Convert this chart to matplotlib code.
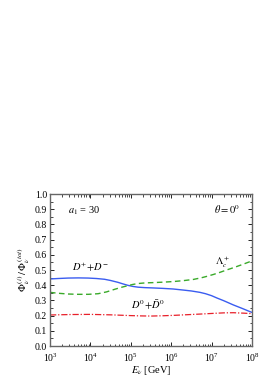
import numpy as np
import matplotlib
matplotlib.use('Agg')
import matplotlib.pyplot as plt
from matplotlib.ticker import LogLocator, MultipleLocator, NullFormatter

plt.rcParams['font.family'] = ['Liberation Serif', 'DejaVu Serif']
plt.rcParams['mathtext.fontset'] = 'stix'

# log10(E / GeV) sample points
logE_dpm = [3.0, 3.2, 3.45, 3.7, 3.94, 4.15, 4.35, 4.5, 4.68, 4.8, 4.93, 5.05, 5.18, 5.35,
            5.55, 5.8, 6.05, 6.3, 6.5, 6.71, 6.85, 7.0, 7.13, 7.3, 7.54, 7.75, 7.95, 8.0]
frac_dpm = [0.441, 0.444, 0.447, 0.448, 0.447, 0.444, 0.439, 0.431, 0.419, 0.409, 0.399, 0.392,
            0.387, 0.384, 0.382, 0.379, 0.375, 0.368, 0.362, 0.353, 0.344, 0.331, 0.316, 0.298,
            0.27, 0.248, 0.226, 0.221]

logE_lam = [3.0, 3.2, 3.45, 3.69, 3.95, 4.19, 4.4, 4.6, 4.78, 4.93, 5.05, 5.18, 5.35, 5.55,
            5.8, 6.05, 6.3, 6.55, 6.75, 6.88, 7.05, 7.2, 7.37, 7.55, 7.75, 7.95, 8.0]
frac_lam = [0.353, 0.347, 0.342, 0.34, 0.34, 0.344, 0.356, 0.373, 0.387, 0.397, 0.405, 0.411,
            0.415, 0.417, 0.42, 0.424, 0.43, 0.438, 0.449, 0.458, 0.471, 0.484, 0.5, 0.516,
            0.535, 0.555, 0.56]

logE_d0 = [3.0, 3.5, 4.0, 4.5, 5.0, 5.25, 5.5, 5.8, 6.1, 6.4, 6.71, 7.0, 7.3, 7.54, 7.8, 8.0]
frac_d0 = [0.204, 0.207, 0.208, 0.205, 0.2, 0.198, 0.197, 0.199, 0.202, 0.206, 0.21, 0.214,
           0.218, 0.219, 0.216, 0.213]

fig = plt.figure(figsize=(2.75, 3.9), dpi=100)
ax = fig.add_axes([50 / 275, 1 - 346 / 390, 202 / 275, 152 / 390])

ax.plot(10 ** np.array(logE_dpm), frac_dpm, color='#3a5cf0', lw=1.0)
ax.plot(10 ** np.array(logE_lam), frac_lam, color='#3aaa2a', lw=1.0, ls=(0, (4, 2.5)))
ax.plot(10 ** np.array(logE_d0), frac_d0, color='#e8202a', lw=0.9, ls=(0, (5, 1.5, 1, 1.5)))

ax.set_xscale('log')
ax.set_xlim(1e3, 1e8)
ax.set_ylim(0, 1.0)
ax.yaxis.set_major_locator(MultipleLocator(0.1))
ax.yaxis.set_minor_locator(MultipleLocator(0.05))
ax.yaxis.set_major_formatter(matplotlib.ticker.FormatStrFormatter('%.1f'))
ax.xaxis.set_major_locator(LogLocator(base=10, numticks=10))
ax.xaxis.set_minor_locator(LogLocator(base=10, subs=np.arange(2, 10), numticks=20))
ax.xaxis.set_minor_formatter(NullFormatter())

ax.tick_params(which='both', direction='in', top=True, right=True, labelsize=7)
ax.tick_params(axis='x', pad=4)
ax.tick_params(axis='y', pad=2)
ax.tick_params(which='major', length=3, width=0.6)
ax.tick_params(which='minor', length=1.8, width=0.5)
for s in ax.spines.values():
    s.set_color('#666666')
    s.set_linewidth(1.0)

ax.set_xlabel(r'$E_\nu$ [GeV]', fontsize=7.5, labelpad=0)
ax.set_ylabel(r'$\Phi_\nu^{\,(i)}\,/\,\Phi_\nu^{\,(tot)}$', fontsize=7.5, labelpad=2)

ax.text(0.09, 0.87, r'$a_1$ = 30', transform=ax.transAxes, fontsize=7.5)
ax.text(0.94, 0.87, r'$\theta = 0^0$', transform=ax.transAxes, fontsize=7.5, ha='right')
ax.text(0.11, 0.50, r'$D^{+}\!+\!D^{-}$', transform=ax.transAxes, fontsize=7.5)
ax.text(0.815, 0.53, r'$\Lambda_c^+$', transform=ax.transAxes, fontsize=7.5)
ax.text(0.40, 0.24, r'$D^{0}\!+\!\bar{D}^{0}$', transform=ax.transAxes, fontsize=7.5)

fig.savefig('out.png', dpi=100)
